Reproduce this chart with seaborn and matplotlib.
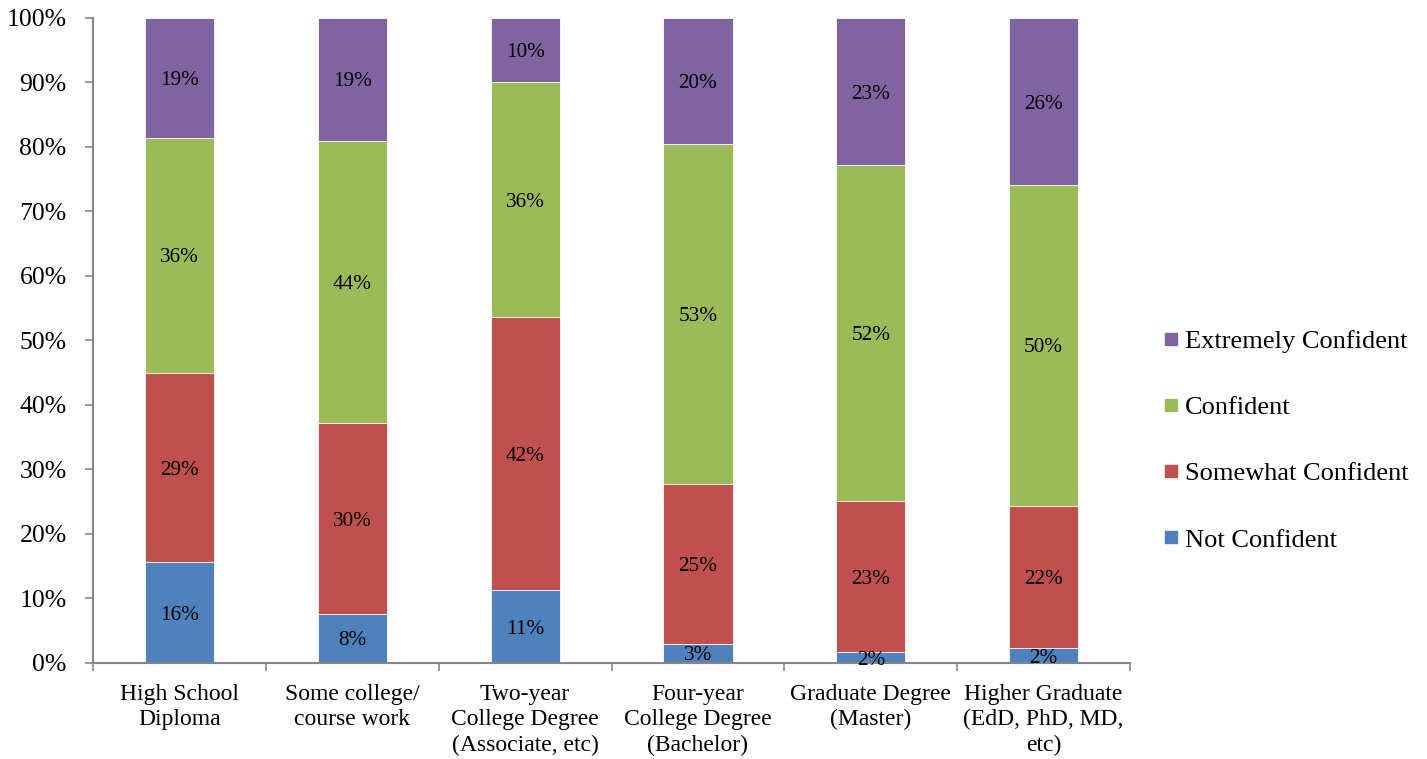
import matplotlib
matplotlib.use("Agg")
import matplotlib.pyplot as plt
import seaborn as sns
import numpy as np
import pandas as pd
from matplotlib.lines import Line2D

categories = ["High School\nDiploma", "Some college/\ncourse work", "Two-year\nCollege Degree\n(Associate, etc)",
              "Four-year\nCollege Degree\n(Bachelor)", "Graduate Degree\n(Master)", "Higher Graduate\n(EdD, PhD, MD,\netc)"]
series = ["Not Confident", "Somewhat Confident", "Confident", "Extremely Confident"]
not_confident = [15.6, 7.6, 11.3, 3.0, 1.7, 2.3]
somewhat_confident = [29.4, 29.6, 42.3, 24.8, 23.4, 22.1]
confident = [36.4, 43.8, 36.4, 52.6, 52.1, 49.7]
extremely_confident = [18.6, 19.0, 10.0, 19.6, 22.8, 25.9]
colors = ["#4F81BD", "#C0504D", "#9BBB59", "#8064A2"]

sns.set_theme(style="white")
plt.rcParams["font.family"] = ["Liberation Serif", "DejaVu Serif"]
plt.rcParams["text.color"] = "black"

vals = [not_confident, somewhat_confident, confident, extremely_confident]
cum = np.cumsum(np.array(vals), axis=0)

fig = plt.figure(figsize=(14.27, 7.59), dpi=100)
ax = fig.add_axes([0.0652, 0.1265, 0.7267, 0.8498])

# draw from top of stack downward so lower segments overlay
for i in range(3, -1, -1):
    df = pd.DataFrame({"cat": categories, "val": cum[i]})
    sns.barplot(data=df, x="cat", y="val", color=colors[i], width=0.4,
                saturation=1, ax=ax, edgecolor="white", linewidth=0.6)

for i in range(4):
    for j in range(len(categories)):
        bottom = cum[i][j] - vals[i][j]
        ax.text(j, bottom + vals[i][j] / 2, f"{vals[i][j]:.0f}%", ha="center", va="center_baseline",
                fontsize=15.3, color="black")

ax.set_xlim(-0.5, 5.5)
ax.set_ylim(0, 100)
ax.set_yticks(np.arange(0, 101, 10))
ax.set_yticklabels([f"{v}%" for v in range(0, 101, 10)], fontsize=18.5)
ax.set_xticks(np.arange(-0.5, 6, 1))
ax.set_xticklabels([])
ax.set_xticks(np.arange(0, 6), minor=True)
ax.set_xticklabels(categories, minor=True, fontsize=17, linespacing=1.28)
ax.tick_params(axis="x", which="minor", length=0, pad=15, labelcolor="black")
ax.tick_params(axis="x", which="major", length=6, direction="out", color="#868686", width=1.2, bottom=True)
ax.tick_params(axis="y", length=6, direction="out", color="#868686", width=1.2, left=True, pad=13,
               labelcolor="black")
ax.set_xlabel("")
ax.set_ylabel("")
for s in ["top", "right"]:
    ax.spines[s].set_visible(False)
for s in ["left", "bottom"]:
    ax.spines[s].set_color("#868686")
    ax.spines[s].set_linewidth(1.5)

handles = [Line2D([0], [0], marker="s", linestyle="", markersize=8, color=colors[i]) for i in range(3, -1, -1)]
labels = [series[i] for i in range(3, -1, -1)]
leg = ax.legend(handles, labels, loc="center left", bbox_to_anchor=(1.006, 0.345), frameon=False,
                fontsize=19, labelspacing=1.62, handletextpad=0.15, handlelength=0.8,
                labelcolor="black")

fig.savefig("out.png", dpi=100)
